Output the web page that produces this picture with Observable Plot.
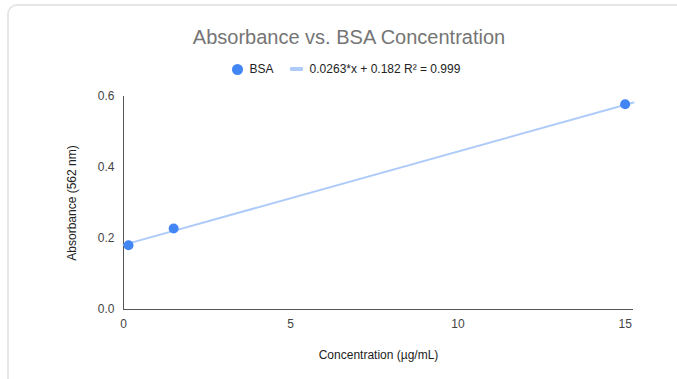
<!DOCTYPE html>
<html>
<head>
<meta charset="utf-8">
<script src="https://cdn.jsdelivr.net/npm/d3@7"></script>
<script src="https://cdn.jsdelivr.net/npm/@observablehq/plot@0.6"></script>
<style>
  html, body { margin: 0; padding: 0; background: #fff; }
  body { width: 677px; height: 379px; overflow: hidden; position: relative; font-family: "Liberation Sans", Arial, sans-serif; }
  #frame { position: absolute; left: 7px; top: 4px; width: 720px; height: 420px; border: 2px solid #e4e6e8; border-radius: 10px; box-sizing: border-box; pointer-events: none; }
  #title { height: 56px; box-sizing: border-box; padding-top: 25px; padding-left: 21px; font-size: 20px; line-height: 24px; text-align: center; color: #757575; white-space: nowrap; }
  #legend { height: 26px; display: flex; justify-content: center; align-items: center; padding-left: 15px; font-size: 12px; color: #222; white-space: nowrap; }
  .sw-dot { width: 11px; height: 11px; border-radius: 50%; background: #4285F4; margin-right: 7px; }
  .sw-line { width: 13px; height: 4px; background: #aecbfa; margin-left: 16px; margin-right: 7px; border-radius: 1px; }
  #chart svg { display: block; }
</style>
</head>
<body>
<div id="frame"></div>
<div id="title"></div>
<div id="legend"></div>
<div id="chart"></div>
<script>
const titleText = "Absorbance vs. BSA Concentration";
const seriesName = "BSA";
const trendLabel = "0.0263*x + 0.182 R² = 0.999";
const xLabel = "Concentration (µg/mL)";
const yLabel = "Absorbance (562 nm)";

const concentration = [0.15, 1.5, 15];
const absorbance = [0.181, 0.228, 0.578];

const trendSlope = 0.0263;
const trendIntercept = 0.182;
const trendX = [0, 15.25];

const xTicks = [0, 5, 10, 15];
const yTicks = [0, 0.2, 0.4, 0.6];
const xDomain = [0, 15.25];
const yDomain = [0, 0.6];

document.getElementById("title").textContent = titleText;
const legend = document.getElementById("legend");
legend.innerHTML = `<span class="sw-dot"></span><span>${seriesName}</span><span class="sw-line"></span><span>${trendLabel}</span>`;

const points = concentration.map((c, i) => ({x: c, y: absorbance[i]}));
const trend = trendX.map(x => ({x, y: trendSlope * x + trendIntercept}));

const chart = Plot.plot({
  width: 677,
  height: 297,
  marginTop: 14,
  marginBottom: 70,
  marginLeft: 123,
  marginRight: 44,
  style: {fontFamily: "'Liberation Sans', Arial, sans-serif", fontSize: "12px", color: "#444", background: "transparent"},
  x: {domain: xDomain, ticks: xTicks, label: null},
  y: {domain: yDomain, ticks: yTicks, label: null},
  marks: [
    Plot.axisX({ticks: xTicks, tickSize: 0, tickPadding: 10, label: null}),
    Plot.axisY({ticks: yTicks, tickSize: 0, tickPadding: 9, tickFormat: d3.format(".1f"), label: null}),
    Plot.ruleY([0], {stroke: "#555", strokeWidth: 1}),
    Plot.ruleX([0], {stroke: "#555", strokeWidth: 1}),
    Plot.line(trend, {x: "x", y: "y", stroke: "#aecbfa", strokeWidth: 2}),
    Plot.dot(points, {x: "x", y: "y", r: 5, fill: "#4285F4", stroke: "none"}),
    Plot.text([yLabel], {frameAnchor: "left", dx: -51, rotate: -90, textAnchor: "middle", lineAnchor: "middle", fill: "#222", fontSize: 12}),
    Plot.text([xLabel], {frameAnchor: "bottom", dy: 46, textAnchor: "middle", lineAnchor: "middle", fill: "#222", fontSize: 12})
  ]
});
document.getElementById("chart").appendChild(chart);
</script>
</body>
</html>
